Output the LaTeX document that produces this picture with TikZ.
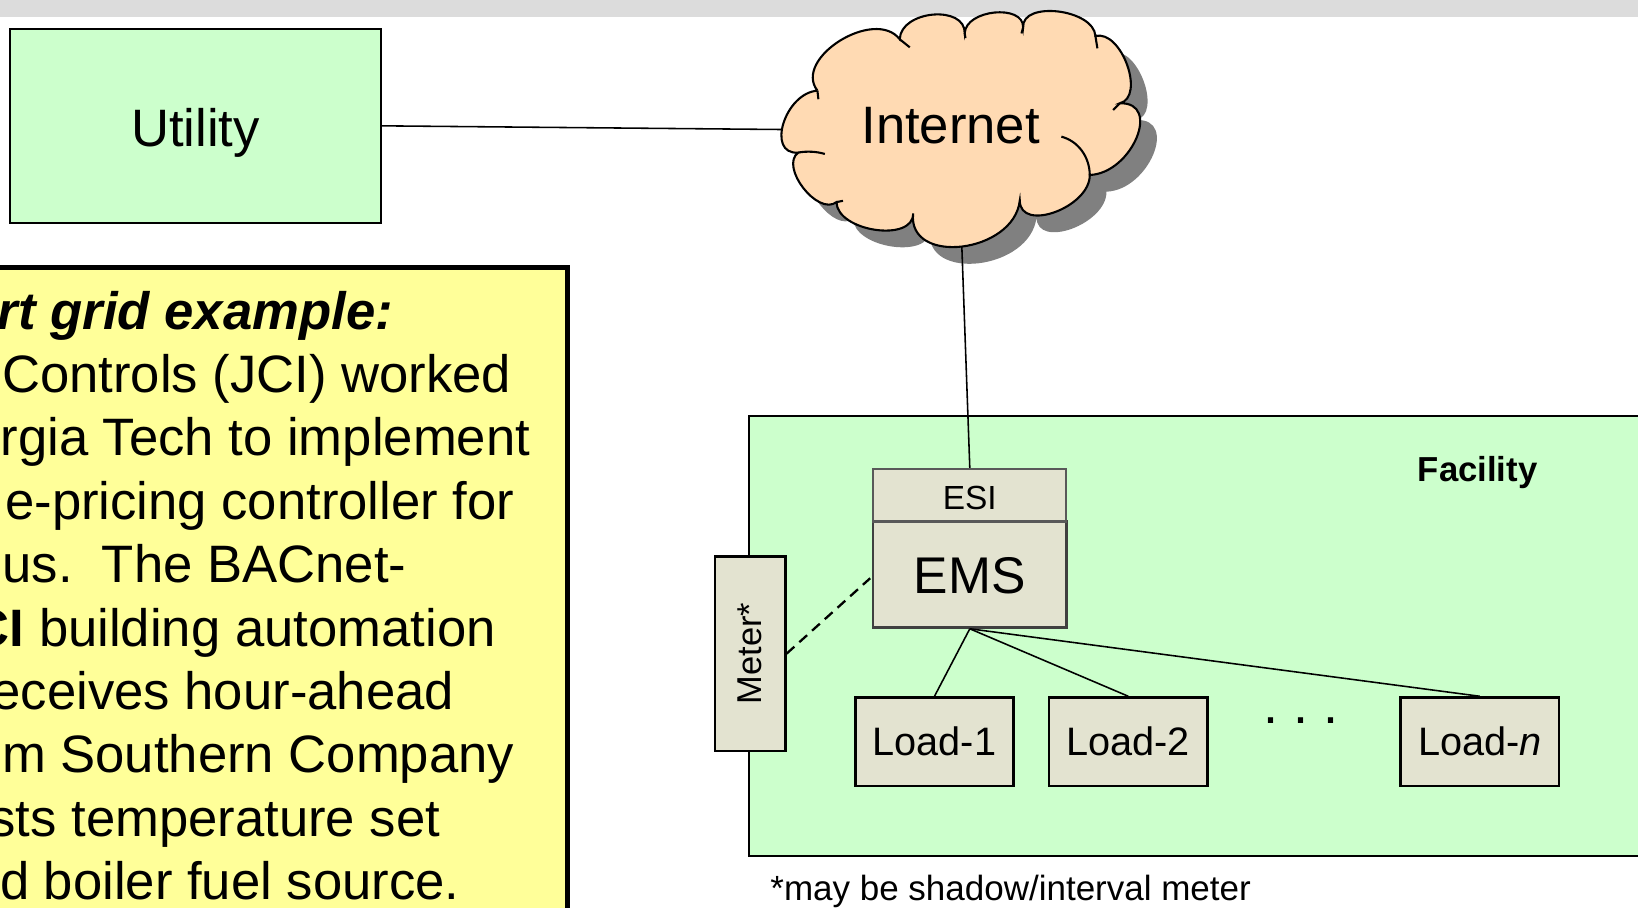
\documentclass[tikz,border=0pt]{standalone}
\usepackage{fontspec}
\setmainfont{Liberation Sans}
\usetikzlibrary{calc}
\definecolor{lgreen}{HTML}{CCFFCC}
\definecolor{beige}{HTML}{E3E3D0}
\definecolor{peach}{HTML}{FFDAB3}
\definecolor{lyellow}{HTML}{FFFF99}
\definecolor{bandgray}{HTML}{DCDCDC}
\definecolor{shadowgray}{HTML}{808080}
\newcommand{\fsz}[1]{\fontsize{#1}{#1}\selectfont}
\newcommand{\cbump}[3]{.. controls ($0.3333*(#1)+1.3333*(#2)-0.6667*(#3)$) and ($0.3333*(#3)+1.3333*(#2)-0.6667*(#1)$) .. (#3)}
\newcommand{\cloudoutline}{(J1) \cbump{J1}{P1}{J2} \cbump{J2}{P2}{J3} \cbump{J3}{P3}{J4} \cbump{J4}{P4}{J5} \cbump{J5}{P5}{J6} \cbump{J6}{P6}{J7} \cbump{J7}{P7}{J8} \cbump{J8}{P8}{J9} \cbump{J9}{P9}{J10} \cbump{J10}{P10}{J11} \cbump{J11}{P11}{J1}}
\begin{document}
\begin{tikzpicture}[x=0.5pt,y=-0.5pt,
  txt/.style={inner sep=0pt, outer sep=0pt, text=black},
  gbox/.style={draw=black, line width=1pt, fill=lgreen, inner sep=0pt},
  bbox/.style={draw=black, line width=1.2pt, fill=beige, inner sep=0pt},
  loadbox/.style={bbox, minimum width=75.85pt, minimum height=42.25pt, text height=13.55pt, text depth=0pt, font=\fsz{19}},
  wire/.style={draw=black, line width=0.75pt},
  cloudline/.style={draw=black, line width=1pt},
  noteline/.style={txt, anchor=base west, font=\fsz{25.2}}]
\useasboundingbox (0,0) rectangle (1568,869);
\clip (0,0) rectangle (1568,869);
% top band
\fill[bandgray] (0,0) rectangle (1568,16.6);
% utility
\node[gbox, minimum width=177.2pt, minimum height=92.65pt, text height=19.9pt, text depth=0pt, font=\fsz{25.2}] (utility) at (187.2,120.45) {Utility};
% yellow note
\node[draw=black, line width=2.5pt, fill=lyellow, minimum width=371.75pt, minimum height=372pt, inner sep=0pt] (note) at (171.75,628) {};
\node[noteline, font=\fsz{25.2}\bfseries\itshape] (l1) at (-2,315) {rt grid example:};
\node[noteline] (l2) at (2,375.7) {Controls (JCI) worked};
\node[noteline] (l3) at (0.5,436.4) {rgia Tech to implement};
\node[noteline] (l4) at (5,497.1) {e-pricing controller for};
\node[noteline] (l5) at (2.4,557.8) {us.\ \ The BACnet-};
\node[noteline] (l6) at (-27,618.5) {\textbf{CI} building automation};
\node[noteline] (l7) at (-8,679.2) {eceives hour-ahead};
\node[noteline] (l8) at (2,739.9) {m Southern Company};
\node[noteline] (l9) at (-10,800.6) {sts temperature set};
\node[noteline] (l10) at (0,861.3) {d boiler fuel source.};
% facility
\node[gbox, minimum width=441.3pt, minimum height=210.7pt] (facility) at (1158.7,608.5) {};
\node[txt, anchor=base, font=\fsz{16.6}\bfseries] (faclabel) at (1414.5,461) {Facility};
% EMS / ESI
\node[bbox, draw=black!75, minimum width=92.45pt, minimum height=50.75pt, text height=17.85pt, text depth=0pt, font=\fsz{24.7}] (ems) at (928.35,549.95) {EMS};
\node[bbox, draw=black!65, line width=1pt, minimum width=92.45pt, minimum height=25.2pt, text height=13.4pt, text depth=0pt, font=\fsz{16}] (esi) at (928.35,474) {ESI};
% meter
\node[bbox, rotate=90, minimum width=93pt, minimum height=33.8pt, font=\fsz{16.5}] (meter) at (718,625.7) {Meter*};
% loads
\node[loadbox] (load1) at (894.55,709.95) {Load-1};
\node[loadbox] (load2) at (1080.05,709.95) {Load-2};
\node[loadbox] (loadn) at (1416.55,709.95) {Load-\textit{n}};
\node[txt, anchor=base, font=\fsz{25.8}] (dots) at (1245.2,693) {.\ .\ .};
% connectors
\draw[wire] (ems.south) -- (load1.north);
\draw[wire] (ems.south) -- (load2.north);
\draw[wire] (ems.south) -- (loadn.north);
\draw[wire, line width=1.1pt, dash pattern=on 5pt off 3.2pt] (meter.south) -- (833,553.5);
% cloud geometry
\coordinate (J1) at (782.5,86.8);   \coordinate (P1) at (804,39);
\coordinate (J2) at (861.3,37.6);   \coordinate (P2) at (893,14);
\coordinate (J3) at (923.5,31.9);   \coordinate (P3) at (952,12);
\coordinate (J4) at (979.4,26.2);   \coordinate (P4) at (1013,11);
\coordinate (J5) at (1048.6,34.5);  \coordinate (P5) at (1079,62);
\coordinate (J6) at (1071.9,98.9);  \coordinate (P6) at (1088,132);
\coordinate (J7) at (1043.2,167.5); \coordinate (P7) at (1010,203);
\coordinate (J8) at (976.2,192);    \coordinate (P8) at (921,236);
\coordinate (J9) at (874.1,204.2);  \coordinate (P9) at (838,220);
\coordinate (J10) at (800.7,193.5); \coordinate (P10) at (769,180);
\coordinate (J11) at (764,146.1);   \coordinate (P11) at (750,118);
\coordinate (cloudL) at (752,124);
\coordinate (cloudB) at (920.5,230);
\draw[wire] (utility.east) -- (cloudL);
% shadow
\begin{scope}[transform canvas={shift={(16,16)}}]
\fill[shadowgray] \cloudoutline;
\end{scope}
\draw[wire] (cloudB) -- (esi.north);
% cloud
\fill[peach] \cloudoutline;
\draw[cloudline] \cloudoutline;
\draw[cloudline] (J1) -- (783.4,95);
\draw[cloudline] (J2) .. controls (866,40.5) .. (870.9,45.3);
\draw[cloudline] (J3) -- (924.2,36.5);
\draw[cloudline] (J4) -- (977.8,32);
\draw[cloudline] (J5) .. controls (1050,40) .. (1050.5,46.3);
\draw[cloudline] (J6) .. controls (1069,102.5) .. (1065.5,105.3);
\draw[cloudline] (J7) .. controls (1043,150) and (1032,135) .. (1016,130.8);
\draw[cloudline] (J10) -- (807,192.2);
\draw[cloudline] (J11) .. controls (772,144.5) and (782,145) .. (789.6,147.4);
\node[txt, anchor=base, font=\fsz{25.2}] (internet) at (910,137.8) {Internet};
% footnote
\node[txt, anchor=base west, font=\fsz{16.75}] (foot) at (737.5,862) {*may be shadow/interval meter};
\end{tikzpicture}
\end{document}
